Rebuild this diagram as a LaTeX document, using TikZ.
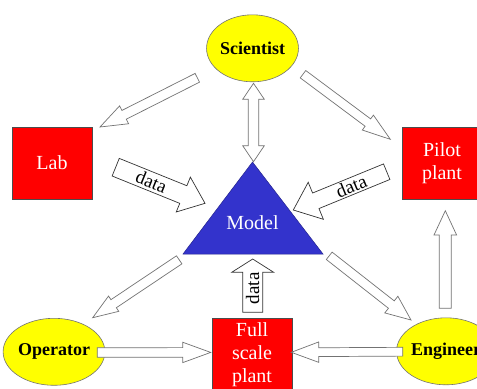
\documentclass[tikz,border=0pt]{standalone}
\usepackage{fontspec}
\setmainfont{Liberation Serif}
\usetikzlibrary{calc}
\definecolor{boxred}{RGB}{255,0,0}
\definecolor{ellyellow}{RGB}{255,255,0}
\definecolor{triblue}{RGB}{51,51,204}
\newcommand\blockarrow[6][]{%
  \path ($(#3)!#6!(#2)$) coordinate (babase);
  \draw[#1] ($(#2)!#4!90:(#3)$) -- ($(babase)!#4!-90:(#2)$) -- ($(babase)!#5!-90:(#2)$) -- (#3)
    -- ($(babase)!#5!90:(#2)$) -- ($(babase)!#4!90:(#2)$) -- ($(#2)!#4!-90:(#3)$) -- cycle;
}
\newcommand\dblarrow[6][]{%
  \path ($(#2)!#6!(#3)$) coordinate (dbaone);
  \path ($(#3)!#6!(#2)$) coordinate (dbatwo);
  \draw[#1] (#2) -- ($(dbaone)!#5!90:(#3)$) -- ($(dbaone)!#4!90:(#3)$) -- ($(dbatwo)!#4!-90:(#2)$)
    -- ($(dbatwo)!#5!-90:(#2)$) -- (#3) -- ($(dbatwo)!#5!90:(#2)$) -- ($(dbatwo)!#4!90:(#2)$)
    -- ($(dbaone)!#4!-90:(#3)$) -- ($(dbaone)!#5!-90:(#3)$) -- cycle;
}
\tikzset{
  box/.style={draw=black!70, line width=0.6bp, fill=boxred, text=white, minimum width=80bp,
    minimum height=72bp, align=center, inner sep=0pt,
    font=\fontsize{20bp}{23bp}\selectfont},
  ell/.style={ellipse, draw=black!55, line width=0.6bp, fill=ellyellow, text=black,
    minimum width=73bp, minimum height=67bp, inner sep=0pt,
    font=\fontsize{18bp}{20bp}\selectfont\bfseries},
  plainarrow/.style={draw=black!55, line width=0.7bp, fill=white, line join=miter},
  dataarrow/.style={draw=black!80, line width=0.7bp, fill=white, line join=miter},
  datatext/.style={font=\fontsize{19bp}{20bp}\selectfont, text=black, inner sep=0pt},
}
\usetikzlibrary{shapes.geometric}
\begin{document}
\begin{tikzpicture}[x=1bp, y=-1bp]
\useasboundingbox (0,0) rectangle (477,388);
\clip (0,0) rectangle (477,388);
\fill[white] (0,0) rectangle (477,388);
% nodes
\node[ell] (sci) at (252.5,48.3) {Scientist};
\node[ell] (op) at (54,351.8) {Operator};
\node[ell] (eng) at (446,351.3) {Engineer};
\node[box] (lab) at (52,163) {Lab};
\node[box] (pilot) at (442,163.5) {Pilot\\plant};
\node[box, minimum height=74bp] (full) at (252,355) {Full\\scale\\plant};
\coordinate (triA) at (252.5,162);
\coordinate (triB) at (183,254);
\coordinate (triC) at (323,254);
\fill[triblue, draw=triblue!70!black, line width=0.5bp] (triA) -- (triB) -- (triC) -- cycle;
\node[text=white, font=\fontsize{20bp}{23bp}\selectfont] (model) at (252.5,223) {Model};
% connector end points
\coordinate (sciLabS) at (197.3,77.8);   \coordinate (sciLabE) at (100,127);
\coordinate (sciPilS) at (303,74.2);     \coordinate (sciPilE) at (390.3,139.3);
\coordinate (sciModS) at (253.5,83.3);   \coordinate (sciModE) at (253.5,161.7);
\coordinate (labModS) at (115.7,167.2);  \coordinate (labModE) at (205,203.3);
\coordinate (pilModS) at (386.7,171.7);  \coordinate (pilModE) at (293.3,210);
\coordinate (fulModS) at (252.7,312.3);  \coordinate (fulModE) at (252.7,259);
\coordinate (modOpS) at (179.2,259.8);   \coordinate (modOpE) at (92.7,317.7);
\coordinate (modEngS) at (329.2,255.8);  \coordinate (modEngE) at (411,320);
\coordinate (opFulS) at (97.3,352.5);    \coordinate (opFulE) at (210.7,352.4);
\coordinate (engFulS) at (402.7,351.7);  \coordinate (engFulE) at (291.3,352.3);
\coordinate (engPilS) at (445.3,308.3);  \coordinate (engPilE) at (445.3,210.7);
% arrows
\blockarrow[plainarrow]{sciLabS}{sciLabE}{4.9bp}{10bp}{27bp}
\blockarrow[plainarrow]{sciPilS}{sciPilE}{4.6bp}{9.3bp}{28bp}
\dblarrow[plainarrow]{sciModS}{sciModE}{5.3bp}{10.8bp}{16bp}
\blockarrow[dataarrow]{labModS}{labModE}{9.5bp}{18.8bp}{23.4bp}
\blockarrow[dataarrow]{pilModS}{pilModE}{8.4bp}{20bp}{24.3bp}
\blockarrow[dataarrow]{fulModS}{fulModE}{10bp}{21bp}{13.3bp}
\blockarrow[plainarrow]{modOpS}{modOpE}{4.85bp}{9.2bp}{25.2bp}
\blockarrow[plainarrow]{modEngS}{modEngE}{4.7bp}{10.6bp}{25bp}
\blockarrow[plainarrow]{opFulS}{opFulE}{4.8bp}{10.2bp}{28bp}
\blockarrow[plainarrow]{engFulS}{engFulE}{4.4bp}{10.2bp}{27.4bp}
\blockarrow[plainarrow]{engPilS}{engPilE}{6bp}{11.3bp}{24.3bp}
% data labels
\path (labModS) -- (labModE) node[datatext, sloped, pos=0.4] (d1) {data};
\path (pilModS) -- (pilModE) node[datatext, sloped, pos=0.38] (d2) {data};
\node[datatext, rotate=90] (d3) at (252.7,288.3) {data};
\end{tikzpicture}
\end{document}
